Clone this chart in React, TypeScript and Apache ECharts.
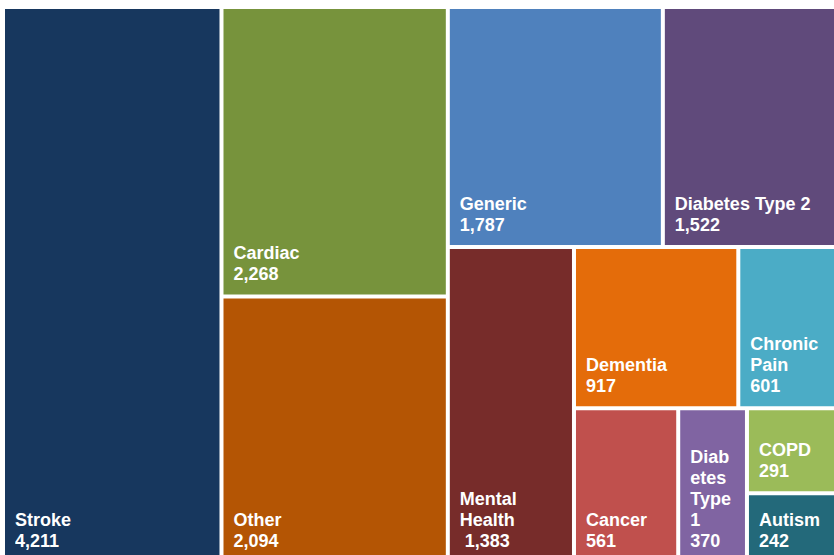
import React, { useEffect, useRef } from "react";
import * as echarts from "echarts";

const categories = [
  "Stroke",
  "Cardiac",
  "Other",
  "Generic",
  "Diabetes Type 2",
  "Mental Health",
  "Dementia",
  "Chronic Pain",
  "Cancer",
  "Diabetes Type 1",
  "COPD",
  "Autism",
];
const values = [4211, 2268, 2094, 1787, 1522, 1383, 917, 601, 561, 370, 291, 242];
const displayNames = [
  "Stroke",
  "Cardiac",
  "Other",
  "Generic",
  "Diabetes Type 2",
  "Mental\nHealth",
  "Dementia",
  "Chronic\nPain",
  "Cancer",
  "Diab\netes\nType\n1",
  "COPD",
  "Autism",
];
const valuePrefixes = ["", "", "", "", "", " ", "", "", "", "", "", ""];
const colors = [
  "#17375E",
  "#77933C",
  "#B45504",
  "#4F81BD",
  "#604A7B",
  "#772C2A",
  "#E46C0A",
  "#4BACC6",
  "#C0504D",
  "#8064A2",
  "#9BBB59",
  "#23697A",
];

export default function App() {
  const ref = useRef<HTMLDivElement>(null);
  useEffect(() => {
    if (!ref.current) return;
    const chart = echarts.init(ref.current, undefined, { renderer: "svg" });
    const data = categories.map((name, i) => ({
      name,
      value: values[i],
      itemStyle: { color: colors[i] },
    }));
    chart.setOption({
      animation: false,
      series: [
        {
          type: "treemap",
          left: 5,
          top: 9,
          width: 839,
          height: 552.8,
          roam: false,
          nodeClick: false,
          breadcrumb: { show: false },
          squareRatio: 0.775,
          visibleMin: 0,
          data,
          levels: [
            { itemStyle: { gapWidth: 4, borderWidth: 0 } },
            { itemStyle: { borderWidth: 0 } },
          ],
          label: {
            show: true,
            position: "insideBottomLeft",
            distance: 10,
            padding: 0,
            overflow: "none",
            color: "#ffffff",
            fontFamily: "'Liberation Sans', Arial, sans-serif",
            fontWeight: "bold",
            fontSize: 18,
            lineHeight: 21,
            formatter: (p: any) => {
              const i = categories.indexOf(p.name);
              return (
                displayNames[i] +
                "\n" +
                valuePrefixes[i] +
                values[i].toLocaleString("en-US")
              );
            },
          },
          emphasis: { disabled: true },
        },
      ],
    });
    return () => chart.dispose();
  }, []);
  return (
    <div
      ref={ref}
      style={{ position: "absolute", left: 0, top: 0, width: 834, height: 555, overflow: "hidden" }}
    />
  );
}
